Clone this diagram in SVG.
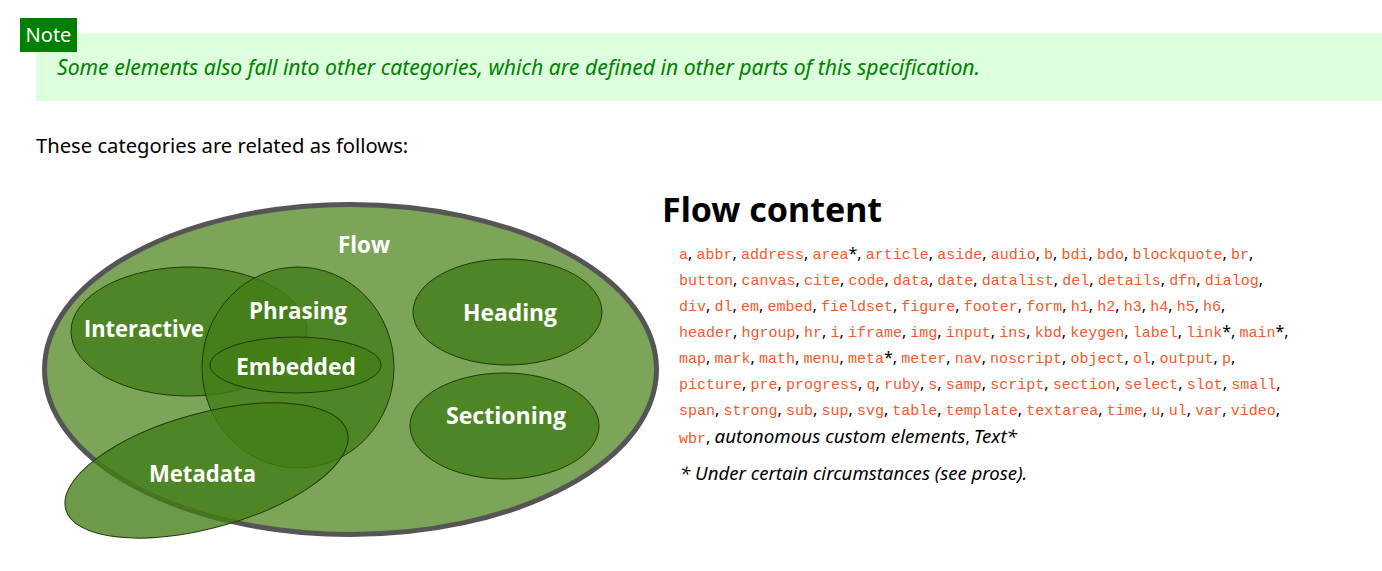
<svg xmlns="http://www.w3.org/2000/svg" width="1382" height="571" viewBox="0 0 1382 571">
<style>
.sans{font-family:"Noto Sans","Open Sans","Liberation Sans",sans-serif}
.lbl{font-family:"Open Sans","Noto Sans","Liberation Sans",sans-serif;font-weight:bold;fill:#fff;font-size:24px;text-anchor:middle}
.sub{fill:rgb(66,125,22);fill-opacity:0.78;stroke:#1e3a0a;stroke-width:1}
.code{font-family:"Liberation Mono","DejaVu Sans Mono",monospace;fill:#f25a2c;font-size:15px}
.row{font-family:"Noto Sans","Open Sans","Liberation Sans",sans-serif;font-size:16px;fill:#000}
</style>
<rect width="1382" height="571" fill="#fff"/>
<g id="note">
<rect x="36" y="33" width="1346" height="68" fill="#ddffdd"/>
<rect x="20" y="18" width="57" height="34" fill="#008000"/>
<text x="48.5" y="42" class="sans" font-size="20" fill="#fff" text-anchor="middle">Note</text>
<text x="57" y="75" class="sans" font-size="21" font-style="italic" fill="#008000" textLength="923" lengthAdjust="spacingAndGlyphs">Some elements also fall into other categories, which are defined in other parts of this specification.</text>
</g>
<text x="36" y="153" class="sans" font-size="20.2" fill="#000">These categories are related as follows:</text>
<g id="diagram">
<g id="flow"><ellipse cx="350.5" cy="369.5" rx="306" ry="165" fill="#7da55a" stroke="#555" stroke-width="5"/></g>
<g id="interactive"><ellipse class="sub" cx="189" cy="331.5" rx="118" ry="64.5"/></g>
<g id="phrasing"><ellipse class="sub" cx="298" cy="367.5" rx="96" ry="100.5"/></g>
<g id="embedded"><ellipse class="sub" cx="295.5" cy="365" rx="85.5" ry="28" stroke="#142a05"/></g>
<g id="heading"><ellipse class="sub" cx="507.5" cy="312" rx="94.5" ry="53"/></g>
<g id="sectioning"><ellipse class="sub" cx="504.5" cy="426" rx="94.5" ry="53"/></g>
<g id="metadata"><ellipse class="sub" cx="206.5" cy="470.5" rx="146" ry="57.4" transform="rotate(-15.4 206.5 470.5)"/></g>
<g id="labels">
<text class="lbl" x="364" y="253" textLength="52" lengthAdjust="spacingAndGlyphs">Flow</text>
<text class="lbl" x="144" y="337" textLength="120" lengthAdjust="spacingAndGlyphs">Interactive</text>
<text class="lbl" x="298" y="319" textLength="98" lengthAdjust="spacingAndGlyphs">Phrasing</text>
<text class="lbl" x="296" y="375" textLength="120" lengthAdjust="spacingAndGlyphs">Embedded</text>
<text class="lbl" x="510" y="321" textLength="94" lengthAdjust="spacingAndGlyphs">Heading</text>
<text class="lbl" x="506" y="424" textLength="120" lengthAdjust="spacingAndGlyphs">Sectioning</text>
<text class="lbl" x="202.5" y="482" textLength="107" lengthAdjust="spacingAndGlyphs">Metadata</text>
</g>
</g>
<g id="flow-content">
<text x="662" y="222" class="sans" font-size="34" font-weight="bold" fill="#000">Flow content</text>
<text class="row" x="679" y="259"><tspan class="code">a</tspan>, <tspan class="code">abbr</tspan>, <tspan class="code">address</tspan>, <tspan class="code">area</tspan>*, <tspan class="code">article</tspan>, <tspan class="code">aside</tspan>, <tspan class="code">audio</tspan>, <tspan class="code">b</tspan>, <tspan class="code">bdi</tspan>, <tspan class="code">bdo</tspan>, <tspan class="code">blockquote</tspan>, <tspan class="code">br</tspan>,</text>
<text class="row" x="679" y="285"><tspan class="code">button</tspan>, <tspan class="code">canvas</tspan>, <tspan class="code">cite</tspan>, <tspan class="code">code</tspan>, <tspan class="code">data</tspan>, <tspan class="code">date</tspan>, <tspan class="code">datalist</tspan>, <tspan class="code">del</tspan>, <tspan class="code">details</tspan>, <tspan class="code">dfn</tspan>, <tspan class="code">dialog</tspan>,</text>
<text class="row" x="679" y="311"><tspan class="code">div</tspan>, <tspan class="code">dl</tspan>, <tspan class="code">em</tspan>, <tspan class="code">embed</tspan>, <tspan class="code">fieldset</tspan>, <tspan class="code">figure</tspan>, <tspan class="code">footer</tspan>, <tspan class="code">form</tspan>, <tspan class="code">h1</tspan>, <tspan class="code">h2</tspan>, <tspan class="code">h3</tspan>, <tspan class="code">h4</tspan>, <tspan class="code">h5</tspan>, <tspan class="code">h6</tspan>,</text>
<text class="row" x="679" y="337"><tspan class="code">header</tspan>, <tspan class="code">hgroup</tspan>, <tspan class="code">hr</tspan>, <tspan class="code">i</tspan>, <tspan class="code">iframe</tspan>, <tspan class="code">img</tspan>, <tspan class="code">input</tspan>, <tspan class="code">ins</tspan>, <tspan class="code">kbd</tspan>, <tspan class="code">keygen</tspan>, <tspan class="code">label</tspan>, <tspan class="code">link</tspan>*, <tspan class="code">main</tspan>*,</text>
<text class="row" x="679" y="363"><tspan class="code">map</tspan>, <tspan class="code">mark</tspan>, <tspan class="code">math</tspan>, <tspan class="code">menu</tspan>, <tspan class="code">meta</tspan>*, <tspan class="code">meter</tspan>, <tspan class="code">nav</tspan>, <tspan class="code">noscript</tspan>, <tspan class="code">object</tspan>, <tspan class="code">ol</tspan>, <tspan class="code">output</tspan>, <tspan class="code">p</tspan>,</text>
<text class="row" x="679" y="389"><tspan class="code">picture</tspan>, <tspan class="code">pre</tspan>, <tspan class="code">progress</tspan>, <tspan class="code">q</tspan>, <tspan class="code">ruby</tspan>, <tspan class="code">s</tspan>, <tspan class="code">samp</tspan>, <tspan class="code">script</tspan>, <tspan class="code">section</tspan>, <tspan class="code">select</tspan>, <tspan class="code">slot</tspan>, <tspan class="code">small</tspan>,</text>
<text class="row" x="679" y="415"><tspan class="code">span</tspan>, <tspan class="code">strong</tspan>, <tspan class="code">sub</tspan>, <tspan class="code">sup</tspan>, <tspan class="code">svg</tspan>, <tspan class="code">table</tspan>, <tspan class="code">template</tspan>, <tspan class="code">textarea</tspan>, <tspan class="code">time</tspan>, <tspan class="code">u</tspan>, <tspan class="code">ul</tspan>, <tspan class="code">var</tspan>, <tspan class="code">video</tspan>,</text>
<text class="row" x="679" y="443"><tspan class="code">wbr</tspan>, <tspan font-style="italic" font-size="18.8">autonomous custom elements</tspan>, <tspan font-style="italic" font-size="18.8">Text*</tspan></text>
<text class="sans" x="680" y="480" font-size="18.6" font-style="italic" fill="#000">* Under certain circumstances (see prose).</text>
</g>
</svg>
